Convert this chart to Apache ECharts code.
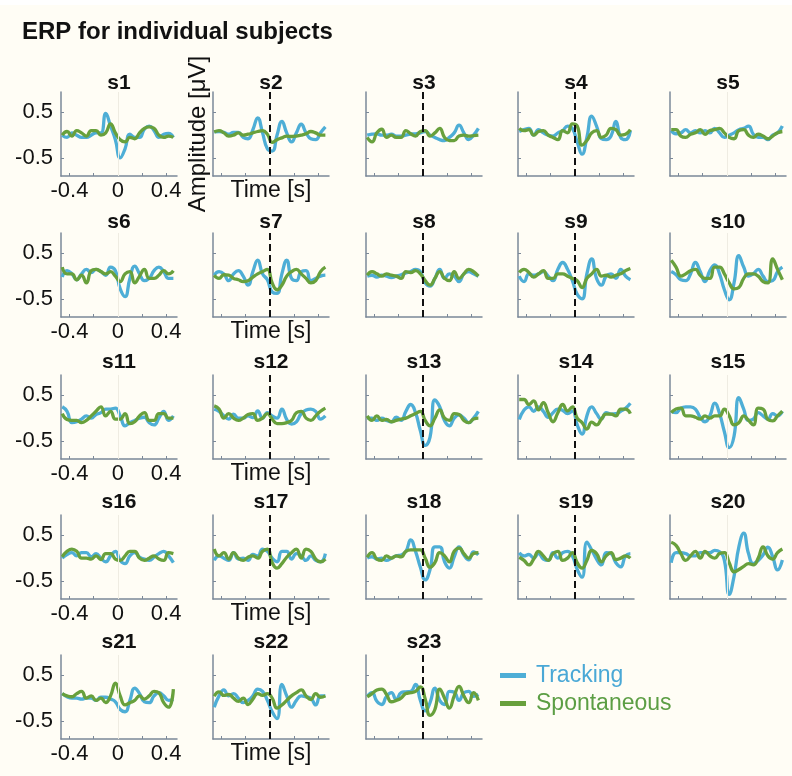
<!DOCTYPE html>
<html>
<head>
<meta charset="utf-8">
<title>ERP for individual subjects</title>
<script src="https://cdn.jsdelivr.net/npm/echarts@6/dist/echarts.min.js"></script>
<style>
  html, body { margin: 0; padding: 0; background: #fffdf5; }
  #main { width: 792px; height: 776px; }
</style>
</head>
<body>
<div id="main"></div>
<script type="text/javascript">
// time axis (s), shared by every subject
var time = [-0.46, -0.42, -0.38, -0.34, -0.30, -0.26, -0.22, -0.18, -0.14, -0.10, -0.06, -0.02,
            0.02, 0.06, 0.10, 0.14, 0.18, 0.22, 0.26, 0.30, 0.34, 0.38, 0.42, 0.46];

// ERP amplitude per subject, Tracking (trk) and Spontaneous (spn)
var trk1 = [0, -0.05, 0.05, 0.0, -0.05, -0.05, 0.0, 0.05, 0.05, 0.48, 0.2, -0.1, -0.5, -0.3, 0.02, -0.05, -0.05, 0.13, 0.2, 0.1, -0.05, 0.02, 0.04, -0.05];
var spn1 = [0, 0.08, -0.02, 0.1, 0.05, -0.02, 0.1, 0.1, 0.0, 0.05, 0.25, 0.05, -0.1, -0.15, -0.05, -0.08, 0.05, 0.15, 0.18, 0.15, 0.0, -0.05, -0.02, -0.05];
var trk2 = [0.07, 0.08, 0.06, 0.02, 0.06, 0.06, -0.05, -0.08, 0.12, 0.38, 0.05, -0.3, -0.35, 0.0, 0.3, 0.05, -0.15, 0.05, 0.24, 0.05, -0.08, -0.1, 0.05, 0.18];
var spn2 = [0.07, 0.1, 0.05, -0.02, 0.0, 0.05, 0.0, 0.02, 0.05, 0.08, 0.1, 0.02, -0.16, -0.1, -0.06, -0.02, -0.03, -0.02, 0.0, 0.03, 0.08, 0.05, 0.0, 0.0];
var trk3 = [0.0, 0.02, 0.03, 0.0, 0.0, 0.02, -0.02, -0.02, 0.0, 0.02, 0.03, 0.05, 0.08, 0.0, -0.05, -0.1, -0.12, -0.05, 0.05, 0.22, 0.05, -0.1, 0.0, 0.15];
var spn3 = [-0.05, -0.15, 0.05, 0.13, -0.05, 0.0, -0.05, -0.05, 0.1, 0.03, -0.02, 0.08, 0.1, -0.02, 0.05, 0.15, -0.05, -0.12, -0.12, -0.02, 0.0, -0.02, -0.01, 0.0];
var trk4 = [0.08, 0.12, 0.15, 0.0, 0.12, 0.05, 0.0, -0.02, 0.05, 0.1, 0.2, 0.15, -0.15, -0.42, -0.05, 0.42, 0.2, -0.08, -0.1, -0.02, 0.3, -0.05, -0.1, 0.1];
var spn4 = [0.15, 0.1, 0.12, 0.0, 0.08, 0.1, 0.0, -0.05, -0.1, 0.1, 0.05, 0.25, 0.2, -0.22, -0.12, 0.05, 0.1, -0.05, 0.0, 0.15, 0.12, 0.0, 0.02, 0.12];
var trk5 = [0.1, 0.03, 0.05, 0.12, 0.05, 0.1, 0.05, 0.1, 0.05, 0.15, 0.05, -0.05, 0.0, 0.05, 0.12, 0.15, 0.2, 0.02, -0.05, -0.05, -0.1, 0.0, 0.05, 0.2];
var spn5 = [0.12, 0.12, -0.02, -0.05, 0.02, 0.05, 0.12, 0.02, 0.1, 0.12, 0.15, 0.05, -0.05, -0.08, 0.1, 0.12, 0.0, -0.05, 0.02, -0.02, -0.08, -0.02, 0.05, 0.08];
var trk6 = [-0.02, 0.12, 0.05, -0.08, 0.05, 0.15, 0.08, 0.15, 0.1, 0.02, 0.2, 0.12, -0.28, -0.45, -0.05, 0.22, 0.05, -0.1, -0.05, 0.12, 0.2, 0.1, -0.05, -0.05];
var spn6 = [0.2, 0.05, 0.05, -0.08, 0.02, -0.15, 0.12, 0.15, 0.1, 0.05, 0.1, 0.0, -0.12, 0.05, 0.1, -0.15, 0.0, 0.15, -0.05, -0.05, 0.02, 0.12, 0.05, 0.12];
var trk7 = [0.02, 0.1, 0.05, -0.1, 0.05, 0.12, 0.0, -0.2, 0.1, 0.35, 0.05, -0.08, -0.35, -0.38, 0.05, 0.35, -0.05, -0.1, 0.1, 0.12, -0.1, -0.05, 0.0, 0.02];
var spn7 = [0.02, -0.05, 0.03, 0.02, -0.05, -0.08, -0.12, -0.1, -0.02, 0.05, 0.1, 0.15, -0.15, -0.3, -0.2, 0.0, 0.1, 0.15, 0.05, -0.05, -0.15, -0.1, 0.1, 0.2];
var trk8 = [0.0, 0.02, -0.02, 0.02, 0.0, -0.03, 0.0, 0.03, 0.07, 0.1, 0.15, 0.1, -0.15, -0.22, -0.05, 0.15, -0.05, 0.05, 0.0, -0.12, 0.05, 0.1, 0.05, 0.0];
var spn8 = [0.02, 0.1, 0.05, 0.0, 0.05, 0.02, 0.0, -0.05, 0.1, 0.08, 0.12, 0.05, -0.1, -0.2, -0.05, 0.1, -0.05, -0.1, 0.1, -0.05, 0.05, 0.15, 0.1, 0.0];
var trk9 = [0.0, -0.12, 0.05, 0.02, 0.05, 0.1, 0.0, -0.1, 0.15, 0.3, 0.15, -0.1, -0.4, -0.5, 0.05, 0.38, -0.05, -0.2, 0.0, 0.05, -0.05, 0.15, 0.0, -0.08];
var spn9 = [0.08, 0.15, 0.08, -0.02, 0.05, 0.12, -0.05, -0.05, 0.05, 0.05, 0.0, -0.05, -0.1, -0.25, -0.05, 0.05, 0.15, 0.0, 0.02, -0.02, 0.02, 0.05, 0.12, 0.17];
var trk10 = [0.1, 0.03, -0.08, -0.1, 0.05, 0.3, 0.1, -0.12, 0.12, 0.25, 0.05, -0.3, -0.52, -0.15, 0.45, 0.2, 0.0, 0.05, 0.15, 0.0, -0.12, -0.1, 0.1, 0.2];
var spn10 = [0.35, 0.2, 0.0, 0.05, 0.12, 0.15, 0.02, -0.05, -0.05, 0.2, 0.2, 0.05, -0.15, -0.28, -0.25, -0.05, 0.05, 0.05, 0.0, -0.12, -0.15, 0.38, 0.15, -0.08];
var trk11 = [0.25, 0.15, -0.1, -0.08, -0.02, 0.05, 0.0, 0.08, 0.12, 0.2, 0.2, 0.22, 0.05, -0.17, -0.1, -0.05, 0.0, 0.02, -0.1, -0.15, 0.0, 0.15, -0.05, 0.05];
var spn11 = [0.1, -0.03, -0.05, -0.05, -0.1, -0.05, 0.05, 0.15, 0.25, 0.05, 0.15, -0.02, -0.02, 0.1, -0.12, -0.08, 0.05, 0.12, -0.05, -0.05, 0.1, 0.1, 0.0, 0.0];
var trk12 = [0.2, 0.15, 0.05, -0.02, 0.09, 0.0, 0.0, 0.05, 0.01, 0.16, 0.0, 0.12, 0.05, 0.0, 0.2, -0.03, -0.13, -0.08, 0.1, 0.18, 0.2, 0.15, -0.02, 0.05];
var spn12 = [0.27, 0.2, 0.0, 0.1, 0.0, -0.05, 0.0, 0.08, 0.1, -0.05, 0.0, 0.1, -0.02, -0.12, -0.12, -0.1, -0.05, 0.12, 0.15, 0.0, -0.05, 0.05, 0.15, 0.22];
var trk13 = [0.0, 0.0, -0.05, 0.0, -0.05, -0.08, 0.02, -0.05, 0.15, 0.3, 0.12, -0.28, -0.6, -0.42, 0.4, 0.25, -0.06, -0.17, 0.0, 0.07, 0.0, -0.1, 0.0, 0.15];
var spn13 = [0.05, -0.05, 0.05, -0.05, -0.03, -0.08, -0.05, -0.02, 0.0, 0.05, 0.1, 0.15, -0.05, -0.17, 0.0, 0.18, 0.0, -0.05, 0.1, 0.08, -0.05, -0.1, -0.02, 0.0];
var trk14 = [-0.03, 0.18, 0.25, 0.15, 0.25, 0.15, 0.02, 0.12, 0.2, 0.17, 0.1, 0.16, -0.15, -0.35, 0.05, 0.25, 0.1, -0.02, 0.12, 0.09, 0.1, 0.15, 0.22, 0.33];
var spn14 = [0.41, 0.41, 0.3, 0.38, 0.18, 0.34, 0.12, -0.08, 0.12, 0.3, 0.16, 0.25, 0.0, -0.1, -0.24, -0.09, -0.15, -0.02, 0.09, 0.09, 0.05, 0.2, 0.2, 0.1];
var trk15 = [0.15, 0.12, 0.22, 0.25, 0.25, 0.2, 0.02, -0.08, 0.05, 0.33, 0.1, -0.3, -0.65, -0.4, 0.45, 0.2, -0.05, -0.02, 0.12, 0.05, -0.02, 0.1, 0.05, 0.15];
var spn15 = [0.12, 0.2, 0.22, 0.05, 0.05, 0.02, -0.02, 0.05, 0.0, 0.05, 0.05, 0.2, 0.05, -0.15, -0.1, 0.05, -0.05, -0.15, 0.22, 0.2, -0.03, -0.06, 0.05, 0.15];
var trk16 = [0.0, 0.08, 0.12, 0.05, 0.12, 0.12, 0.03, 0.1, 0.0, -0.08, 0.05, 0.15, -0.05, -0.12, 0.05, 0.12, 0.02, -0.02, -0.05, 0.02, 0.1, 0.15, 0.05, -0.1];
var spn16 = [0.03, 0.15, 0.2, 0.15, 0.0, 0.0, -0.02, 0.05, -0.03, 0.1, 0.1, -0.02, -0.05, 0.05, 0.15, 0.15, 0.0, -0.05, 0.0, 0.05, -0.02, -0.05, 0.12, 0.1];
var trk17 = [-0.05, 0.05, 0.0, -0.05, 0.12, -0.02, 0.0, -0.05, 0.08, 0.05, 0.2, 0.15, 0.0, -0.08, 0.15, 0.15, -0.02, 0.1, 0.05, -0.05, 0.05, -0.05, -0.08, 0.1];
var spn17 = [0.2, 0.05, 0.12, -0.02, 0.12, 0.0, -0.05, 0.02, 0.05, 0.0, 0.15, 0.2, -0.1, -0.22, -0.12, 0.02, 0.12, 0.2, 0.0, 0.2, 0.15, -0.02, -0.08, -0.02];
var trk18 = [0.0, 0.03, -0.02, 0.0, -0.05, 0.0, 0.05, 0.07, 0.15, 0.4, 0.15, -0.2, -0.48, -0.25, 0.25, 0.25, -0.08, -0.22, 0.03, 0.25, 0.07, -0.04, 0.14, 0.07];
var spn18 = [0.02, 0.12, -0.02, -0.05, 0.05, 0.0, 0.05, 0.03, 0.15, 0.18, 0.18, 0.18, 0.0, -0.2, -0.1, 0.12, 0.05, -0.08, 0.15, 0.22, 0.1, 0.0, 0.1, 0.12];
var trk19 = [0.12, 0.05, 0.08, 0.0, 0.1, -0.02, -0.05, 0.12, 0.0, 0.12, 0.15, 0.05, -0.25, -0.42, 0.35, 0.18, -0.02, -0.15, 0.12, 0.1, -0.1, -0.19, 0.05, 0.1];
var spn19 = [0.02, -0.05, -0.15, -0.02, 0.15, 0.05, -0.05, 0.1, 0.15, -0.05, 0.0, 0.12, -0.1, -0.22, -0.05, 0.17, 0.1, -0.08, 0.05, 0.12, -0.03, 0.0, 0.05, 0.0];
var trk20 = [-0.1, 0.12, 0.12, 0.1, 0.05, 0.05, 0.12, 0.12, 0.12, 0.17, 0.14, -0.05, -0.8, -0.4, 0.25, 0.55, 0.1, -0.12, -0.05, 0.07, 0.24, 0.03, -0.26, -0.04];
var spn20 = [0.35, 0.28, 0.1, -0.05, 0.05, 0.15, 0.0, 0.15, 0.05, 0.0, 0.1, 0.12, -0.1, -0.3, -0.25, -0.18, -0.12, -0.15, 0.0, 0.25, 0.05, -0.02, 0.12, 0.2];
var trk21 = [0.1, 0.03, 0.0, 0.0, -0.02, 0.0, 0.0, -0.05, 0.02, 0.02, -0.02, -0.08, -0.25, -0.3, -0.05, 0.22, 0.1, -0.08, -0.1, 0.05, 0.12, 0.05, -0.05, -0.03];
var spn21 = [0.1, 0.05, 0.03, 0.1, 0.15, 0.0, 0.05, -0.05, 0.0, -0.1, 0.05, 0.33, 0.05, -0.15, -0.1, -0.05, 0.05, -0.02, 0.05, 0.15, 0.12, -0.1, -0.2, 0.2];
var trk22 = [-0.2, 0.05, 0.18, 0.05, 0.1, 0.0, -0.1, -0.05, 0.05, 0.2, 0.15, -0.05, -0.3, -0.45, 0.3, 0.05, -0.2, -0.05, 0.05, 0.03, 0.0, -0.15, 0.05, 0.05];
var spn22 = [0.04, 0.14, 0.06, 0.08, 0.0, -0.07, 0.0, -0.14, -0.02, 0.1, 0.06, 0.1, 0.0, -0.22, -0.15, -0.05, 0.05, 0.12, 0.18, 0.05, -0.03, 0.1, 0.02, 0.05];
var trk23 = [0.04, 0.12, -0.07, -0.14, 0.04, 0.12, -0.03, 0.12, 0.14, 0.15, 0.3, -0.05, -0.28, -0.1, 0.22, -0.05, -0.14, 0.15, 0.13, -0.05, 0.12, 0.15, 0.04, 0.08];
var spn23 = [0.03, 0.1, 0.18, 0.2, 0.08, -0.08, -0.05, 0.0, 0.1, 0.12, 0.15, 0.25, -0.02, -0.38, -0.25, 0.2, 0.0, -0.22, 0.05, 0.26, 0.05, -0.1, 0.12, -0.05];

var tracking = [trk1, trk2, trk3, trk4, trk5, trk6, trk7, trk8, trk9, trk10, trk11, trk12,
                trk13, trk14, trk15, trk16, trk17, trk18, trk19, trk20, trk21, trk22, trk23];
var spontaneous = [spn1, spn2, spn3, spn4, spn5, spn6, spn7, spn8, spn9, spn10, spn11, spn12,
                   spn13, spn14, spn15, spn16, spn17, spn18, spn19, spn20, spn21, spn22, spn23];

// tick positions / labels
var xTicks = [-0.4, -0.2, 0, 0.2, 0.4];
var xLabels = [-0.4, 0, 0.4];
var yTicks = [-0.5, 0.5];

var font = "'Liberation Sans', Arial, Helvetica, sans-serif";
var axisColor = '#7b8898';
var blue = '#4eaed6';
var green = '#68a03c';

// layout of the 5 x 5 panel grid
var colLeft = [61, 213, 366, 518, 670];
var rowTop = [92, 233, 375, 515, 655];
var titleY = [83, 222, 362, 502, 642];
var panelW = 116, panelH = 84;

var grids = [], xAxes = [], yAxes = [], series = [];
var graphics = [
    {type: 'rect', shape: {x: 0, y: 0, width: 792, height: 5}, style: {fill: '#ffffff'}, silent: true},
    {type: 'text', style: {text: 'ERP for individual subjects', x: 22, y: 32, textVerticalAlign: 'middle',
        font: 'bold 24px ' + font, fill: '#111'}}
];

for (var i = 0; i < tracking.length; i++) {
    var r = Math.floor(i / 5), c = i % 5;
    grids.push({left: colLeft[c], top: rowTop[r], width: panelW, height: panelH});
    xAxes.push({
        type: 'value', gridIndex: i, min: -0.47, max: 0.49,
        name: c === 1 ? 'Time [s]' : '', nameLocation: 'middle', nameGap: 3,
        nameTextStyle: {fontSize: 23, color: '#111', fontFamily: font},
        axisLine: {show: true, onZero: false, lineStyle: {color: axisColor, width: 1.5}},
        axisTick: {show: true, inside: true, length: 3, customValues: xTicks, lineStyle: {color: axisColor}},
        axisLabel: {show: c === 0, customValues: xLabels, fontSize: 22, color: '#111', margin: 4, fontFamily: font},
        splitLine: {show: false}
    });
    yAxes.push({
        type: 'value', gridIndex: i, min: -0.9, max: 0.95,
        name: i === 1 ? 'Amplitude [μV]' : '', nameLocation: 'middle', nameRotate: 90, nameGap: 3,
        nameTextStyle: {fontSize: 24, color: '#111', fontFamily: font},
        axisLine: {show: true, onZero: false, lineStyle: {color: axisColor, width: 1.5}},
        axisTick: {show: true, inside: true, length: 3, customValues: yTicks, lineStyle: {color: axisColor}},
        axisLabel: {show: c === 0, customValues: yTicks, fontSize: 22, color: '#111', margin: 8, fontFamily: font},
        splitLine: {show: false}
    });
    // 刺激时刻 t = 0: dashed for middle columns, faint for outer ones
    var dashed = c >= 1 && c <= 3;
    series.push({
        name: 'Tracking', type: 'line', xAxisIndex: i, yAxisIndex: i,
        data: time.map(function (t, k) { return [t, tracking[i][k]]; }),
        smooth: true, showSymbol: false, color: blue, lineStyle: {width: 3.3, color: blue},
        markLine: dashed ? undefined : {silent: true, symbol: 'none', label: {show: false},
            lineStyle: {color: '#efece2', type: 'solid', width: 1}, data: [{xAxis: 0}]}
    });
    series.push({
        name: 'Spontaneous', type: 'line', xAxisIndex: i, yAxisIndex: i,
        data: time.map(function (t, k) { return [t, spontaneous[i][k]]; }),
        smooth: true, showSymbol: false, color: green, lineStyle: {width: 3.3, color: green},
        markLine: dashed ? {silent: true, symbol: 'none', label: {show: false},
            lineStyle: {color: '#111', type: [7, 4], width: 2}, data: [{xAxis: 0}]} : undefined
    });
    graphics.push({type: 'text', style: {text: 's' + (i + 1), x: colLeft[c] + panelW / 2, y: titleY[r],
        textAlign: 'center', textVerticalAlign: 'middle', font: 'bold 21px ' + font, fill: '#111'}});
}

var myChart = echarts.init(document.getElementById('main'));
var option = {
    backgroundColor: '#fffdf5',
    animation: false,
    grid: grids,
    xAxis: xAxes,
    yAxis: yAxes,
    legend: {
        orient: 'vertical', left: 500, top: 664, padding: 0,
        itemWidth: 26, itemHeight: 5, itemGap: 5, icon: 'rect', selectedMode: false,
        textStyle: {fontSize: 23, fontFamily: font, padding: [0, 0, 0, 5]},
        data: [
            {name: 'Tracking', textStyle: {color: '#4aa8d6'}},
            {name: 'Spontaneous', textStyle: {color: '#5c9e44'}}
        ]
    },
    graphic: graphics,
    series: series
};
myChart.setOption(option);
</script>
</body>
</html>
